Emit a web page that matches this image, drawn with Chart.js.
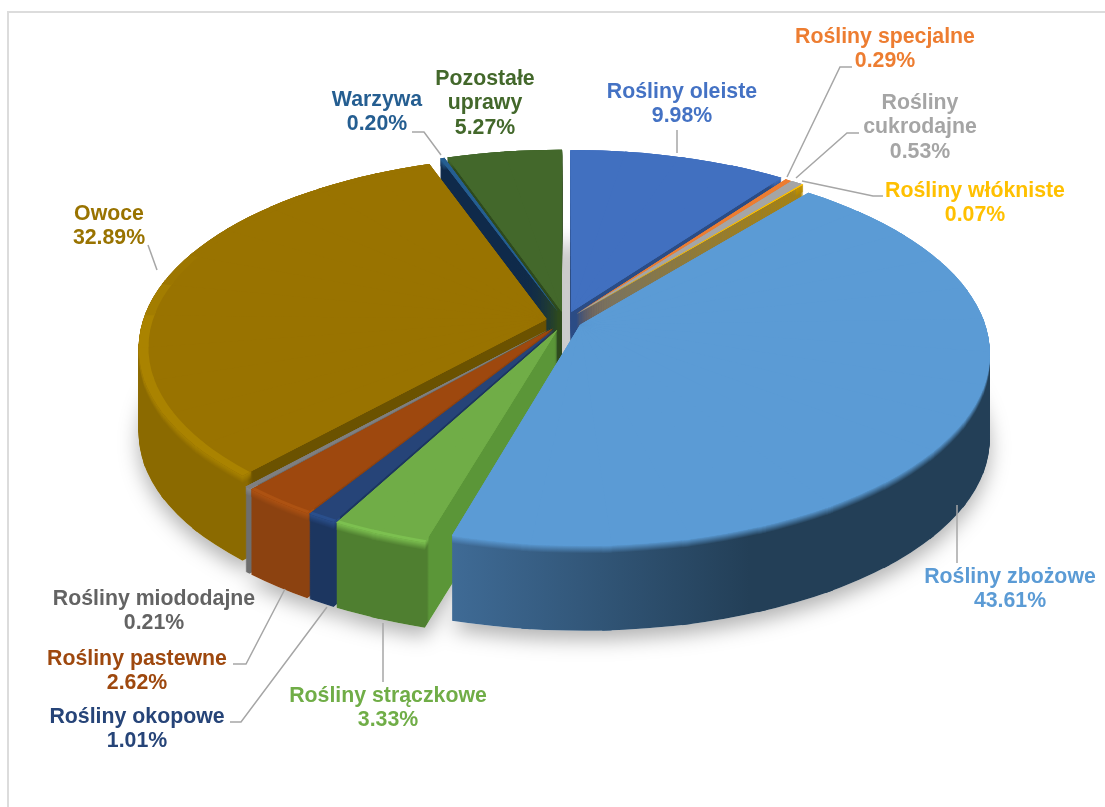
<!DOCTYPE html>
<html lang="pl">
<head>
<meta charset="utf-8">
<title>Struktura upraw</title>
<script src="https://cdn.jsdelivr.net/npm/chart.js@4/dist/chart.umd.js"></script>
<style>
  html, body { margin: 0; background: #fff; overflow: hidden; }
  #frame { position: absolute; left: 7px; top: 11px; width: 1300px; height: 1000px; border: 2px solid #dcdcdc; box-sizing: border-box; }
  #wrap { position: absolute; left: 0; top: 0; width: 1105px; height: 807px; }
</style>
</head>
<body>
<div id="frame"></div>
<div id="wrap"><canvas id="chart" width="1105" height="807"></canvas></div>
<script>
const categories = [
  'Rośliny oleiste', 'Rośliny specjalne', 'Rośliny cukrodajne', 'Rośliny włókniste',
  'Rośliny zbożowe', 'Rośliny strączkowe', 'Rośliny okopowe', 'Rośliny pastewne',
  'Rośliny miododajne', 'Owoce', 'Warzywa', 'Pozostałe uprawy',
];
const shares = [9.98, 0.29, 0.53, 0.07, 43.61, 3.33, 1.01, 2.62, 0.21, 32.89, 0.20, 5.27];

// slice styling
const topColors = ['#4170c0', '#ed7d31', '#a5a5a5', '#ffc000', '#5b9bd5', '#70ad47', '#264478', '#9e480e', '#7f7f7f', '#997300', '#255e91', '#43682b'];
const edgeColors = ['#4170c0', '#ed7d31', '#a5a5a5', '#c89600', '#5b9bd5', '#7cc050', '#2a4f8c', '#ad5212', '#8a8a8a', '#aa8300', '#255e91', '#43682b'];
const wallFront = ['#2b4c85', '#a5551f', '#707070', '#b08500', '#3f6b96', '#4f7f30', '#1c3660', '#8c4210', '#6e6e6e', '#8b6a00', '#0f2a4a', '#2e4a1d'];
const wallBack = ['#2b4c85', '#a5551f', '#707070', '#b08500', '#233f57', '#5b9638', '#1c3660', '#8c4210', '#6e6e6e', '#6b5200', '#0f2a4a', '#2e4a1d'];
// x where a wall passes from its front colour to its back colour, and how soft
const wallSplitX = [571, 780, 790, 800, 600, 428, 340, 300, 255, 250, 440, 450];
const wallSplitSoft = [1, 1, 1, 1, 150, 1, 1, 1, 1, 3, 1, 1];
const rimGlow = [0, 0, 0, 0, 0, 0.012, 0.012, 0.012, 0, 0.024, 0, 0];
const explode = [0.05, 0.045, 0.045, 0.045, 0.042, 0.05, 0.05, 0.05, 0.05, 0.046, 0.05, 0.05];
const paintOrder = [11, 0, 1, 2, 3, 10, 9, 8, 7, 6, 5, 4];

// 3D view of the pie
const CENTER_X = 565;
const CENTER_Y = 321;
const RADIUS_X = 404;
const RADIUS_Y = 188;
const TILT = 0.145;
const DEPTH = 85;
const BEVEL = 7;
const ARC_RADIUS = 100;
const WEDGE_STEP = Math.PI / 18;

// labels
const labelLines = [
  ['Rośliny oleiste', '9.98%'], ['Rośliny specjalne', '0.29%'], ['Rośliny', 'cukrodajne', '0.53%'], ['Rośliny włókniste', '0.07%'],
  ['Rośliny zbożowe', '43.61%'], ['Rośliny strączkowe', '3.33%'], ['Rośliny okopowe', '1.01%'], ['Rośliny pastewne', '2.62%'],
  ['Rośliny miododajne', '0.21%'], ['Owoce', '32.89%'], ['Warzywa', '0.20%'], ['Pozostałe', 'uprawy', '5.27%'],
];
const labelColors = ['#4472c4', '#ed7d31', '#a5a5a5', '#ffc000', '#5b9bd5', '#70ad47', '#264478', '#9e480e', '#636363', '#997300', '#255e91', '#43682b'];
const labelX = [682, 885, 920, 975, 1010, 388, 137, 137, 154, 109, 377, 485];
const labelY = [92, 37, 103, 191, 577, 696, 717, 659, 599, 214, 100, 79];
const leaderLines = [
  [[677, 153], [677, 130]],
  [[787, 177], [840, 67], [852, 67]],
  [[796, 178], [847, 133], [859, 133]],
  [[802, 181], [873, 196], [883, 196]],
  [[957, 505], [957, 563]],
  [[383, 623], [383, 682]],
  [[327, 607], [241, 722], [230, 722]],
  [[285, 589], [246, 664], [233, 664]],
  [],
  [[157, 270], [148, 245]],
  [[441, 155], [424, 132], [412, 132]],
  [],
];

const project = (u, v) => {
  const w = 1 - TILT * v;
  return { x: CENTER_X + RADIUS_X * u / w, y: CENTER_Y + RADIUS_Y * v / w };
};

const mix = (from, to, t) => {
  const part = (hex, n) => parseInt(hex.slice(1 + n * 2, 3 + n * 2), 16);
  const rgb = [0, 1, 2].map((n) => Math.round(part(from, n) + (part(to, n) - part(from, n)) * t));
  return `rgb(${rgb.join(',')})`;
};

// a slice is cut into narrow wedges and each one gets its own affine frame,
// so the library arcs follow the perspective of the pie
const sliceWedges = (arc, i) => {
  const count = Math.max(1, Math.ceil(arc.circumference / WEDGE_STEP));
  const step = arc.circumference / count;
  const mid = (arc.startAngle + arc.endAngle) / 2;
  const ou = explode[i] * Math.cos(mid);
  const ov = explode[i] * Math.sin(mid);
  const apex = project(ou, ov);
  const wedges = [];
  for (let n = 0; n < count; n++) {
    const start = arc.startAngle + n * step;
    const end = start + step;
    const from = project(ou + Math.cos(start), ov + Math.sin(start));
    const to = project(ou + Math.cos(end), ov + Math.sin(end));
    const fx = from.x - apex.x;
    const fy = from.y - apex.y;
    const tx = to.x - apex.x;
    const ty = to.y - apex.y;
    const det = Math.sin(end - start) * ARC_RADIUS;
    wedges.push({
      start,
      end: n < count - 1 ? end + 0.02 : end,
      facing: Math.sin((start + end) / 2),
      apex,
      a: (fx * Math.sin(end) - tx * Math.sin(start)) / det,
      b: (fy * Math.sin(end) - ty * Math.sin(start)) / det,
      c: (tx * Math.cos(start) - fx * Math.cos(end)) / det,
      d: (ty * Math.cos(start) - fy * Math.cos(end)) / det,
    });
  }
  return wedges;
};

// gradients live in the warped space of the wedge, so the line is worked out
// backwards to give a colour change that runs along screen x
const wallFill = (ctx, arc, wedge, i, t) => {
  const norm = wedge.a * wedge.a + wedge.c * wedge.c;
  const local = (x) => {
    const scale = (x - wedge.apex.x) / norm;
    return [arc.x + wedge.a * scale, arc.y + wedge.c * scale];
  };
  const fill = ctx.createLinearGradient(
    ...local(wallSplitX[i] - wallSplitSoft[i]),
    ...local(wallSplitX[i] + wallSplitSoft[i]),
  );
  fill.addColorStop(0, mix(wallFront[i], edgeColors[i], t));
  fill.addColorStop(1, mix(wallBack[i], edgeColors[i], t));
  return fill;
};

const drawWedge = (ctx, arc, wedge, fill, shiftY, ring = 0) => {
  const layer = Object.create(arc);
  layer.options = { ...arc.options, backgroundColor: fill, borderWidth: 0 };
  layer.startAngle = wedge.start;
  layer.endAngle = wedge.end;
  layer.circumference = wedge.end - wedge.start;
  layer.innerRadius = ring ? arc.outerRadius * (1 - ring) : 0;
  ctx.save();
  ctx.translate(wedge.apex.x, wedge.apex.y + shiftY);
  ctx.transform(wedge.a, wedge.b, wedge.c, wedge.d, 0, 0);
  ctx.translate(-arc.x, -arc.y);
  layer.draw(ctx);
  ctx.restore();
};

const pie3d = {
  id: 'pie3d',
  beforeDatasetsDraw(chart) {
    const { ctx } = chart;
    const arcs = chart.getDatasetMeta(0).data;
    const wedges = arcs.map(sliceWedges);

    // soft shadow of the whole foot of the pie
    const foot = document.createElement('canvas');
    foot.width = chart.width;
    foot.height = chart.height;
    const footCtx = foot.getContext('2d');
    arcs.forEach((arc, i) => wedges[i].forEach((wedge) => drawWedge(footCtx, arc, wedge, '#ffffff', DEPTH)));
    ctx.save();
    ctx.shadowColor = 'rgba(0, 0, 0, 0.3)';
    ctx.shadowBlur = 20;
    ctx.shadowOffsetY = 9;
    ctx.drawImage(foot, 0, 0);
    ctx.restore();

    paintOrder.forEach((i) => {
      const arc = arcs[i];
      wedges[i].forEach((wedge) => {
        const wall = wallFill(ctx, arc, wedge, i, 0);
        for (let k = DEPTH; k > 0; k--) {
          drawWedge(ctx, arc, wedge, wall, k);
        }
      });
      for (let k = BEVEL; k > 0; k--) {
        wedges[i].forEach((wedge) => {
          drawWedge(ctx, arc, wedge, wallFill(ctx, arc, wedge, i, 1 - k / (BEVEL + 1)), k, 0.03);
        });
      }
      // three passes close the hairline seams where the wedges meet at the apex
      for (let pass = 0; pass < 3; pass++) {
        wedges[i].forEach((wedge) => drawWedge(ctx, arc, wedge, topColors[i], 0));
      }
      if (rimGlow[i]) {
        wedges[i].forEach((wedge) => {
          const glow = Math.min(1, Math.max(0, (wedge.facing + 0.35) / 0.4));
          drawWedge(ctx, arc, wedge, mix(topColors[i], edgeColors[i], glow), 0, rimGlow[i]);
        });
      }
    });
    return false;
  },
  afterDraw(chart) {
    const { ctx } = chart;
    ctx.save();
    ctx.strokeStyle = '#a6a6a6';
    ctx.lineWidth = 1.5;
    leaderLines.forEach((points) => {
      if (!points.length) return;
      ctx.beginPath();
      points.forEach(([x, y], n) => (n ? ctx.lineTo(x, y) : ctx.moveTo(x, y)));
      ctx.stroke();
    });
    ctx.font = 'bold 21.3px "Liberation Sans", Arial, sans-serif';
    ctx.textAlign = 'center';
    ctx.textBaseline = 'middle';
    labelLines.forEach((lines, i) => {
      ctx.fillStyle = labelColors[i];
      lines.forEach((line, n) => ctx.fillText(line, labelX[i], labelY[i] + n * 24.5));
    });
    ctx.restore();
  },
};

new Chart(document.getElementById('chart'), {
  type: 'pie',
  data: {
    labels: categories,
    datasets: [{ data: shares, backgroundColor: topColors, borderWidth: 0 }],
  },
  options: {
    responsive: false,
    animation: false,
    radius: ARC_RADIUS,
    plugins: { legend: { display: false }, tooltip: { enabled: false } },
  },
  plugins: [pie3d],
});
</script>
</body>
</html>
